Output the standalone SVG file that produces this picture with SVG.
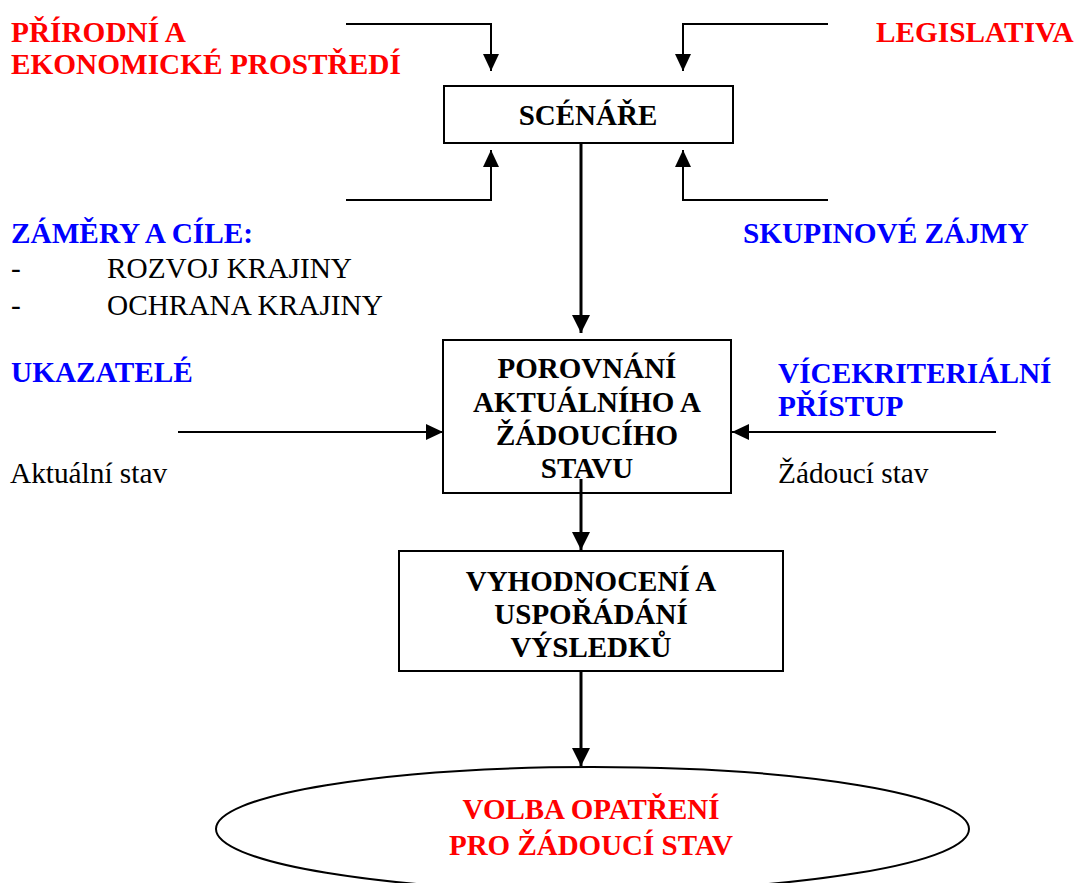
<svg xmlns="http://www.w3.org/2000/svg" width="1079" height="883" viewBox="0 0 1079 883">
  <style>
    text { font-family: "Liberation Serif", "Times New Roman", serif; }
    .hd { font-weight: bold; font-size: 29.3px; }
    .tx { font-size: 29.3px; fill: #000; }
    .box { fill: #fff; stroke: #000; stroke-width: 2; }
    .bt { font-weight: bold; font-size: 29px; fill: #000; text-anchor: middle; }
    .red { fill: #ff0000; }
    .blue { fill: #0000ff; }
    .thin { fill: none; stroke: #000; stroke-width: 2; }
    .thick { fill: none; stroke: #000; stroke-width: 3; }
  </style>
  <defs>
    <marker id="ah" markerUnits="userSpaceOnUse" markerWidth="17" markerHeight="16" refX="17" refY="8" orient="auto">
      <path d="M0,0 L17,8 L0,16 z" fill="#000"/>
    </marker>
    <marker id="ahBig" markerUnits="userSpaceOnUse" markerWidth="18" markerHeight="18" refX="18" refY="9" orient="auto">
      <path d="M0,0 L18,9 L0,18 z" fill="#000"/>
    </marker>
  </defs>
  <rect width="1079" height="883" fill="#fff"/>

  <!-- influence labels -->
  <g id="labels">
    <text class="hd red" x="11" y="42">PŘÍRODNÍ A</text>
    <text class="hd red" x="11" y="74">EKONOMICKÉ PROSTŘEDÍ</text>
    <text class="hd red" x="876" y="42" font-size="29.8">LEGISLATIVA</text>
    <text class="hd blue" x="11" y="243">ZÁMĚRY A CÍLE:</text>
    <text class="tx" x="11" y="278">-</text>
    <text class="tx" x="107" y="278">ROZVOJ KRAJINY</text>
    <text class="tx" x="11" y="315">-</text>
    <text class="tx" x="107" y="315">OCHRANA KRAJINY</text>
    <text class="hd blue" x="743" y="243">SKUPINOVÉ ZÁJMY</text>
    <text class="hd blue" x="11" y="382">UKAZATELÉ</text>
    <text class="hd blue" x="778" y="383">VÍCEKRITERIÁLNÍ</text>
    <text class="hd blue" x="778" y="416">PŘÍSTUP</text>
    <text class="tx" x="10" y="483">Aktuální stav</text>
    <text class="tx" x="778" y="483">Žádoucí stav</text>
  </g>

  <!-- nodes -->
  <g id="scenare">
    <rect class="box" x="444" y="86" width="289" height="57"/>
    <text class="bt" x="588" y="125">SCÉNÁŘE</text>
  </g>
  <g id="porovnani">
    <rect class="box" x="443" y="340" width="288" height="153"/>
    <text class="bt" x="587" y="378">POROVNÁNÍ</text>
    <text class="bt" x="587" y="412">AKTUÁLNÍHO A</text>
    <text class="bt" x="587" y="445">ŽÁDOUCÍHO</text>
    <text class="bt" x="587" y="478">STAVU</text>
  </g>
  <g id="vyhodnoceni">
    <rect class="box" x="399" y="551" width="384" height="120"/>
    <text class="bt" x="591" y="591">VYHODNOCENÍ A</text>
    <text class="bt" x="591" y="624">USPOŘÁDÁNÍ</text>
    <text class="bt" x="591" y="657">VÝSLEDKŮ</text>
  </g>
  <g id="volba">
    <ellipse cx="592.5" cy="829" rx="376.5" ry="62" fill="#fff" stroke="#000" stroke-width="2"/>
    <text class="bt red" x="591" y="819" font-size="29.5">VOLBA OPATŘENÍ</text>
    <text class="bt red" x="591" y="855" font-size="29.5">PRO ŽÁDOUCÍ STAV</text>
  </g>

  <!-- connectors -->
  <g id="connectors">
    <polyline class="thin" points="346,24 491,24 491,71" marker-end="url(#ah)"/>
    <polyline class="thin" points="346,200 491,200 491,150" marker-end="url(#ah)"/>
    <polyline class="thin" points="828,24 683,24 683,71" marker-end="url(#ah)"/>
    <polyline class="thin" points="828,200 683,200 683,150" marker-end="url(#ah)"/>
    <line class="thick" x1="581" y1="143" x2="581" y2="333" marker-end="url(#ahBig)"/>
    <line class="thin" x1="178" y1="432" x2="443" y2="432" marker-end="url(#ah)"/>
    <line class="thin" x1="996" y1="432" x2="732" y2="432" marker-end="url(#ah)"/>
    <line class="thick" x1="581" y1="479" x2="581" y2="550" marker-end="url(#ahBig)"/>
    <line class="thick" x1="581" y1="671" x2="581" y2="766" marker-end="url(#ahBig)"/>
  </g>
</svg>
